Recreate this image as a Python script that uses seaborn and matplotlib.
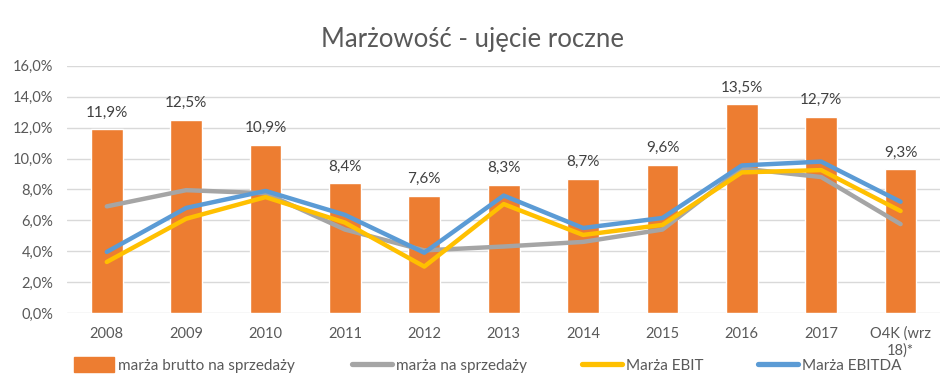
import numpy as np
import pandas as pd
import matplotlib
matplotlib.use("Agg")
import matplotlib.pyplot as plt
from matplotlib.lines import Line2D
from matplotlib.patches import Patch
import seaborn as sns

categories = ["2008", "2009", "2010", "2011", "2012", "2013", "2014", "2015", "2016", "2017", "O4K (wrz\n18)*"]
brutto = [11.9, 12.5, 10.9, 8.4, 7.6, 8.3, 8.7, 9.6, 13.5, 12.7, 9.3]
sprzedaz = [6.9, 7.95, 7.75, 5.4, 4.05, 4.3, 4.6, 5.4, 9.35, 8.8, 5.75]
ebit = [3.3, 6.1, 7.5, 5.85, 3.0, 7.05, 5.05, 5.7, 9.1, 9.25, 6.6]
ebitda = [3.95, 6.8, 7.9, 6.35, 3.9, 7.6, 5.5, 6.15, 9.55, 9.8, 7.2]

series_names = ["marża brutto na sprzedaży", "marża na sprzedaży", "Marża EBIT", "Marża EBITDA"]
title = "Marżowość - ujęcie roczne"

C_ORANGE = "#ED7D31"
C_GRAY = "#A5A5A5"
C_YELLOW = "#FFC000"
C_BLUE = "#5B9BD5"

sns.set_theme(style="white")
plt.rcParams["font.family"] = ["Lato", "DejaVu Sans"]

fig = plt.figure(figsize=(9.45, 3.83), dpi=100)
ax = fig.add_axes([0.071, 0.183, 0.924, 0.645])

df = pd.DataFrame({"cat": categories, "val": brutto})
sns.barplot(data=df, x="cat", y="val", color=C_ORANGE, width=0.4, saturation=1, ax=ax, zorder=2)

xs = np.arange(len(categories))
for vals, col in [(sprzedaz, C_GRAY), (ebit, C_YELLOW), (ebitda, C_BLUE)]:
    sns.lineplot(x=xs, y=vals, color=col, linewidth=3.2, ax=ax, zorder=3,
                 solid_capstyle="round", solid_joinstyle="round")

for i, v in enumerate(brutto):
    ax.annotate(f"{v:.1f}%".replace(".", ","), (i, v), xytext=(0, 7), textcoords="offset points",
                ha="center", va="bottom", fontsize=11, color="#404040")

ax.set_ylim(0, 16)
ax.set_xlim(-0.5, len(categories) - 0.5)
ticks = np.arange(0, 17, 2)
ax.set_yticks(ticks)
ax.set_yticklabels([f"{t:.1f}%".replace(".", ",") for t in ticks])
ax.yaxis.grid(True, color="#D9D9D9", linewidth=1)
ax.set_axisbelow(True)
for s in ax.spines.values():
    s.set_visible(False)
ax.tick_params(axis="both", length=0, labelsize=10.5, colors="#595959")
ax.tick_params(axis="x", pad=10)
ax.tick_params(axis="y", pad=10)
ax.set_xlabel("")
ax.set_ylabel("")
fig.suptitle(title, x=0.5, y=0.93, fontsize=18.5, color="#595959")

handles = [Patch(color=C_ORANGE), Line2D([], [], color=C_GRAY, lw=3.8),
           Line2D([], [], color=C_YELLOW, lw=3.8), Line2D([], [], color=C_BLUE, lw=3.8)]
x_starts = [74, 352, 582, 758]
for h, name, xs0 in zip(handles, series_names, x_starts):
    fig.legend([h], [name], loc="center left", bbox_to_anchor=(xs0 / 945, 1 - 365 / 383),
               frameon=False, fontsize=11, handlelength=2.6, handleheight=1.1, handletextpad=0.25,
               borderpad=0, borderaxespad=0, labelcolor="#595959")

fig.savefig("out.png", dpi=100)
